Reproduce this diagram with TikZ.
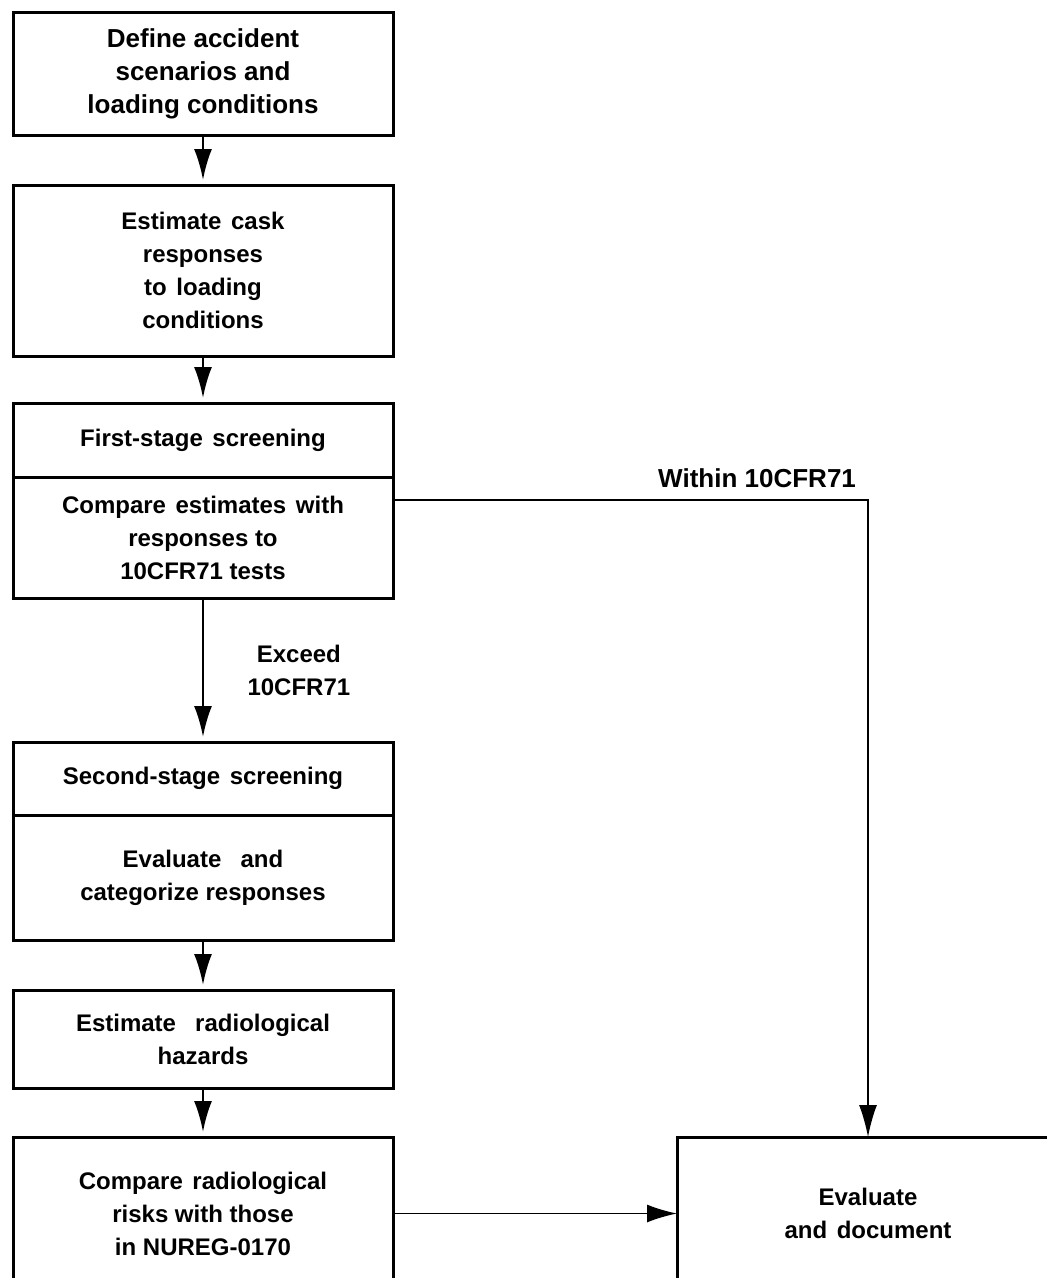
\documentclass[tikz,border=0pt]{standalone}
\usepackage{fontspec}
\setmainfont{Liberation Sans}
\usetikzlibrary{positioning,arrows.meta}
\tikzstyle{block} = [rectangle, draw, line width=3pt, outer sep=0pt, text centered, align=center, minimum width=380pt, font=\bfseries\fontsize{24}{33}\selectfont]
\tikzstyle{flow} = [draw, line width=2.4pt, -{Latex[length=31pt,width=18pt]}, shorten >=5pt, shorten <=2pt]
\tikzstyle{link} = [draw, line width=1.5pt, -{Latex[length=32pt,width=18pt]}]
\tikzstyle{tag} = [align=center, font=\bfseries\fontsize{24}{33}\selectfont]
\newcommand{\wsp}{\hspace{0.4em}}

\begin{document}
\begin{tikzpicture}[x=1pt, y=-1pt, node distance=50pt]
    \useasboundingbox[fill=white] (0,0) rectangle (1047,1278);
    \clip (0,0) rectangle (1047,1278);

    \node[block, minimum height=123pt, font=\bfseries\fontsize{26}{33}\selectfont] (define) at (203,73.5) {Define accident\\scenarios and\\loading conditions};
    \node[block, minimum height=171pt, below=50pt of define] (cask) {Estimate\wsp cask\\responses\\to\wsp loading\\conditions};
    \node[block, minimum height=74pt, below=47pt of cask] (screen1) {First-stage\wsp screening};
    \node[block, minimum height=121pt, below=0pt of screen1] (compare) {Compare\wsp estimates\wsp with\\responses to\\10CFR71 tests};
    \node[block, minimum height=73pt, below=144pt of compare] (screen2) {Second-stage\wsp screening};
    \node[block, minimum height=125pt, below=0pt of screen2] (categ) {Evaluate\wsp\wsp and\\categorize responses};
    \node[block, minimum height=98pt, below=50pt of categ] (hazard) {Estimate\wsp\wsp radiological\\hazards};
    \node[block, minimum height=153pt, below=49pt of hazard] (risk) {Compare\wsp radiological\\risks with those\\in NUREG-0170};
    \node[block, minimum height=153pt, minimum width=382pt, right=284pt of risk] (evaldoc) {Evaluate\\and\wsp document};

    % main path
    \draw[flow] (define) -- (cask);
    \draw[flow] (cask) -- (screen1);
    \draw[flow] (compare) -- node[tag, right=40pt] {Exceed\\10CFR71} (screen2);
    \draw[flow] (categ) -- (hazard);
    \draw[flow] (hazard) -- (risk);

    % to evaluation
    \draw[link] ([yshift=37.5pt]compare.east) -| node[tag, pos=0.5, anchor=south east, xshift=-8pt, yshift=8pt, font=\bfseries\fontsize{26}{33}\selectfont] {Within 10CFR71} (evaldoc.north);
    \draw[link, -{Latex[length=30pt,width=18pt]}] (risk) -- (evaldoc);
\end{tikzpicture}
\end{document}
